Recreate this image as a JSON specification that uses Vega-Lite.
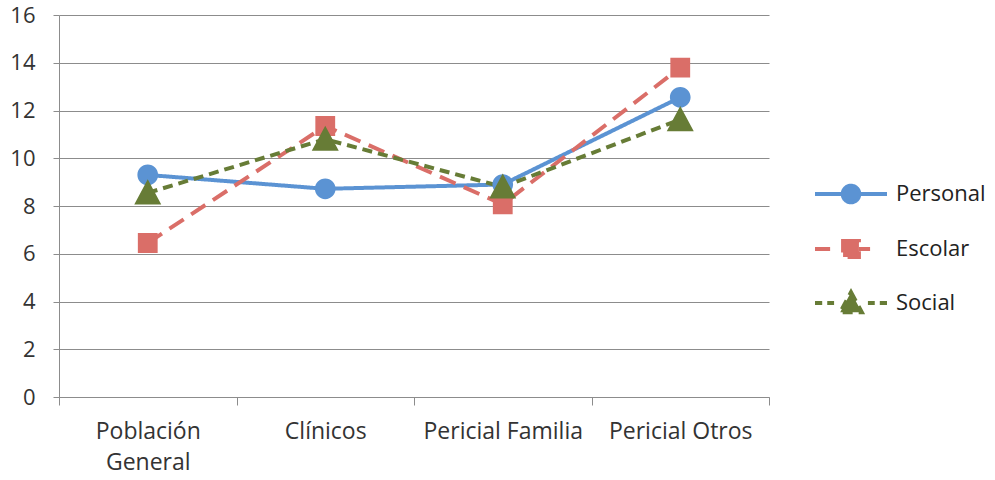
{
  "$schema": "https://vega.github.io/schema/vega-lite/v6.json",
  "autosize": "none",
  "width": 710,
  "height": 382,
  "padding": {"left": 59, "top": 15, "right": 226, "bottom": 83},
  "background": "white",
  "config": {
    "view": {"stroke": null},
    "font": "Open Sans",
    "axis": {"labelFont": "Open Sans", "labelFontSize": 23, "labelColor": "#333333", "domainColor": "#8c8c8c", "tickColor": "#8c8c8c", "gridColor": "#8c8c8c", "title": null},
    "legend": {"labelFont": "Open Sans", "labelFontSize": 22, "labelColor": "#222222"}
  },
  "data": {"values": [
    {"cat": "Población General", "series": "Personal", "value": 9.3},
    {"cat": "Clínicos", "series": "Personal", "value": 8.72},
    {"cat": "Pericial Familia", "series": "Personal", "value": 8.9},
    {"cat": "Pericial Otros", "series": "Personal", "value": 12.55},
    {"cat": "Población General", "series": "Escolar", "value": 6.45},
    {"cat": "Clínicos", "series": "Escolar", "value": 11.35},
    {"cat": "Pericial Familia", "series": "Escolar", "value": 8.07},
    {"cat": "Pericial Otros", "series": "Escolar", "value": 13.8},
    {"cat": "Población General", "series": "Social", "value": 8.55},
    {"cat": "Clínicos", "series": "Social", "value": 10.8},
    {"cat": "Pericial Familia", "series": "Social", "value": 8.8},
    {"cat": "Pericial Otros", "series": "Social", "value": 11.62}
  ]},
  "encoding": {
    "x": {
      "field": "cat", "type": "nominal",
      "sort": ["Población General", "Clínicos", "Pericial Familia", "Pericial Otros"],
      "scale": {"type": "band", "paddingInner": 0, "paddingOuter": 0},
      "axis": {"labelAngle": 0, "tickBand": "extent", "tickSize": 8, "labelPadding": 15, "labelLineHeight": 31, "domainWidth": 1,
        "labelExpr": "datum.value == 'Población General' ? ['Población', 'General'] : datum.value"}
    },
    "y": {
      "field": "value", "type": "quantitative",
      "scale": {"domain": [0, 16], "nice": false},
      "axis": {"values": [0, 2, 4, 6, 8, 10, 12, 14, 16], "grid": true, "tickSize": 6, "labelPadding": 18, "labelFontSize": 22, "domain": true}
    }
  },
  "layer": [
    {
      "mark": {"type": "line", "strokeWidth": 4, "strokeCap": "butt"},
      "encoding": {
        "color": {"field": "series", "type": "nominal",
          "scale": {"domain": ["Personal", "Escolar", "Social"], "range": ["#5b93d3", "#da6e68", "#677c36"]}},
        "strokeDash": {"field": "series", "type": "nominal", "legend": null,
          "scale": {"domain": ["Personal", "Escolar", "Social"], "range": [[1, 0], [17, 9], [10, 6]]}}
      }
    },
    {
      "mark": {"type": "point", "filled": true, "opacity": 1, "size": 8100, "strokeWidth": 0},
      "encoding": {
        "color": {"field": "series", "type": "nominal",
          "legend": {"title": null, "orient": "none", "legendX": 754, "legendY": 141, "padding": 0, "rowPadding": -9, "labelOffset": 7, "symbolSize": 5184, "symbolStrokeWidth": 4,
            "encode": {"symbols": {"update": {"stroke": {"scale": "color", "field": "value"}, "strokeWidth": {"value": 4}}}}}},
        "shape": {"field": "series", "type": "nominal",
          "scale": {"domain": ["Personal", "Escolar", "Social"], "range": [
            "M-1,0H1M-0.23,0A0.23,0.23 0 1,0 0.23,0A0.23,0.23 0 1,0 -0.23,0Z",
            "M-1,0H-0.58M0.22,0H0.53M-0.22,-0.22H0.22V0.22H-0.22Z",
            "M-1,0H-0.8M-0.66,0H-0.47M0.47,0H0.66M0.8,0H1M0,-0.3L0.3,0.26L-0.3,0.26Z"
          ]},
          "legend": {"title": null, "orient": "none", "legendX": 754, "legendY": 141, "padding": 0, "rowPadding": -9, "labelOffset": 7, "symbolSize": 5184, "symbolStrokeWidth": 4,
            "encode": {"symbols": {"update": {"stroke": {"scale": "color", "field": "value"}, "strokeWidth": {"value": 4}}}}}}
      }
    }
  ]
}
